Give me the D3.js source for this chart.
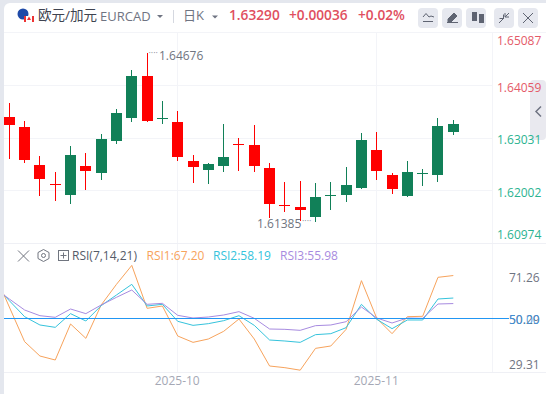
<!DOCTYPE html>
<html><head><meta charset="utf-8">
<script src="https://cdn.jsdelivr.net/npm/d3@7"></script>
<style>html,body{margin:0;padding:0;background:#e4e7ee;overflow:hidden}svg{display:block}
text{font-family:"Open Sans","Noto Sans CJK SC",sans-serif}</style></head><body>
<svg id="c" width="546" height="394"></svg>
<script>
// slot 0 sits just left of the clipped plot edge
const slots = d3.range(31);
const opens  = [1.63500,1.63434,1.63239,1.62496,1.62125,1.61910,1.62477,1.62340,1.62965,1.63414,1.64235,1.63410,1.63336,1.62574,1.62399,1.62477,1.62907,1.62887,1.62438,1.61715,1.61676,1.61480,1.61906,1.61910,1.62047,1.62789,1.62301,1.61891,1.62336,1.62301,1.63141];
const closes = [1.63434,1.63278,1.62594,1.62223,1.62120,1.62692,1.62379,1.63004,1.63512,1.64235,1.63356,1.63414,1.62653,1.62457,1.62516,1.62653,1.62903,1.62477,1.61734,1.61711,1.61617,1.61871,1.61910,1.62106,1.62985,1.62379,1.62027,1.62360,1.62340,1.63258,1.63290];
const highs  = [1.63800,1.63707,1.63356,1.62672,1.62360,1.62867,1.62731,1.63102,1.63590,1.64352,1.64676,1.63747,1.63551,1.62692,1.62535,1.63297,1.63024,1.63278,1.62535,1.62164,1.62184,1.62145,1.62164,1.62457,1.63121,1.63141,1.62340,1.62574,1.62418,1.63414,1.63375];
const lows   = [1.63100,1.62613,1.62535,1.61891,1.61793,1.61734,1.62008,1.62203,1.62907,1.63336,1.63336,1.63297,1.62574,1.62145,1.62125,1.62360,1.62379,1.62360,1.61461,1.61578,1.61402,1.61385,1.61617,1.61773,1.62027,1.62203,1.61930,1.61871,1.62086,1.62164,1.63082];
const rsi1 = [68.62,54.61,40.72,34.98,33.38,47.80,42.06,55.41,63.68,71.26,54.07,55.01,42.99,40.45,41.79,44.86,49.80,41.79,30.98,30.31,29.31,38.05,38.99,45.66,65.15,50.07,43.93,50.73,50.87,66.49,67.20];
const rsi2 = [63.68,57.14,50.73,47.40,46.46,51.94,49.00,55.14,59.41,63.68,55.01,55.67,48.87,47.26,47.93,49.13,51.13,47.26,41.39,40.99,40.45,43.53,43.93,46.33,55.67,49.67,45.93,49.40,49.40,57.81,58.19];
const rsi3 = [62.35,57.81,53.40,51.13,50.47,53.80,51.94,55.41,58.48,61.41,55.67,56.07,51.27,50.20,50.60,51.40,52.74,50.07,45.79,45.66,45.26,47.13,47.40,48.73,54.61,50.20,48.20,50.20,50.07,55.81,55.98];
const priceTicks = [1.65087,1.64059,1.63031,1.62002,1.60974];
const rsiTicks = [71.26,50.29,29.31];
const timeTicks = [{slot:12,label:"2025-10"},{slot:25,label:"2025-11"}];
const symbolName = "欧元/加元", symbolCode = "EURCAD", period = "日K";
const quote = ["1.63290","+0.00036","+0.02%"];
const rsiLegend = [["RSI1:67.20","#f7a35c"],["RSI2:58.19","#35c3dc"],["RSI3:55.98","#a78be0"]];
const maxLabel = "1.64676", minLabel = "1.61385";

const UP="#118058", DOWN="#ff0000", GRID="#f3f4f8", GREY="#6f7482";
const svg=d3.select("#c");
const x=d3.scalePoint().domain(slots).range([-6,453.3]);
const y=d3.scaleLinear().domain([1.62002,1.64059]).range([190.3,85]);
const yR=d3.scaleLinear().domain([50,71.26]).range([318.5,265.4]);

svg.append("rect").attr("x",4).attr("y",3).attr("width",560).attr("height",400).attr("rx",6).attr("fill","#fff");
const defs=svg.append("defs");
defs.append("clipPath").attr("id","plot").append("rect").attr("x",4).attr("y",33).attr("width",488).attr("height",340);

// side handle
svg.append("rect").attr("x",530).attr("y",80).attr("width",16).attr("height",60).attr("rx",4).attr("fill","#e9e9ef");
svg.append("path").attr("d","M541 106.5L536 111.5L541 116.5").attr("fill","none").attr("stroke","#6f7482").attr("stroke-width",1.5);

// grid
const g=svg.append("g").attr("shape-rendering","crispEdges");
[1.65087,1.64059,1.63031,1.62002].forEach(p=>g.append("line").attr("x1",4).attr("x2",492).attr("y1",Math.round(y(p))+.5).attr("y2",Math.round(y(p))+.5).attr("stroke",GRID));
timeTicks.forEach(t=>g.append("line").attr("x1",Math.floor(x(t.slot))+.5).attr("x2",Math.floor(x(t.slot))+.5).attr("y1",33).attr("y2",372).attr("stroke",GRID));
g.append("line").attr("x1",492.5).attr("x2",492.5).attr("y1",33).attr("y2",373).attr("stroke",GRID);
[243.5,372.5].forEach(v=>g.append("line").attr("x1",4).attr("x2",546).attr("y1",v).attr("y2",v).attr("stroke","#eff0f5"));

// candles
const cg=svg.append("g").attr("clip-path","url(#plot)").attr("shape-rendering","crispEdges");
slots.forEach(i=>{
  const col=closes[i]<opens[i]?DOWN:UP;
  const cx=Math.floor(x(i));
  cg.append("rect").attr("x",cx).attr("width",1).attr("y",y(highs[i])).attr("height",y(lows[i])-y(highs[i])).attr("fill",col);
  const t=Math.min(y(opens[i]),y(closes[i])), h=Math.max(1,Math.abs(y(opens[i])-y(closes[i])));
  cg.append("rect").attr("x",cx-5).attr("width",11).attr("y",Math.round(t)).attr("height",Math.round(h)).attr("fill",col);
});

// extremes
const tx=(s,xp,yp,size,fill,anchor,weight)=>svg.append("text").text(s).attr("x",xp).attr("y",yp).attr("font-size",size).attr("fill",fill).attr("text-anchor",anchor||"start").attr("font-weight",weight||400);
tx("····",148.5,56,9,"#888c99"); tx(maxLabel,159,60,12,"#70757f");
tx(minLabel,257,228,12,"#70757f"); tx("····",302,224,9,"#888c99");

// price axis
const clampP=v=>Math.max(40,Math.min(234,v));
priceTicks.forEach(p=>{const yy=clampP(y(p)+2);
  tx(d3.format(".5f")(p),497,yy+4.5,12,p>=1.64059?"#e45a68":"#2bb391");});

// rsi
const line=d3.line().x((d,i)=>x(i)).y(d=>yR(d));
const rg=svg.append("g").attr("clip-path","url(#plot)");
[[rsi1,"#f7a35c"],[rsi2,"#35c3dc"],[rsi3,"#a78be0"]].forEach(([d,c])=>rg.append("path").attr("d",line(d)).attr("fill","none").attr("stroke",c).attr("stroke-width",1));
svg.append("line").attr("x1",4).attr("x2",509).attr("y1",318.5).attr("y2",318.5).attr("stroke","#2196f3").attr("stroke-width",1);
const clampR=v=>Math.max(277.7,Math.min(364,v));
rsiTicks.forEach(v=>tx(v.toFixed(2),509,v===50.29?324:clampR(yR(v)+1.5)+4.5,12,GREY));
tx("50.00",509,324,12,"#3a93e0").attr("fill-opacity",.9);
timeTicks.forEach(t=>tx(t.label,x(t.slot)-.5,385,12,"#a5a8b5","middle"));

// rsi legend
tx("RSI(7,14,21)",72,260,12,"#555b68");
let lx=[146.5,213,280];
rsiLegend.forEach((r,i)=>tx(r[0],lx[i],260,12,r[1]));
const ic=svg.append("g").attr("fill","none").attr("stroke","#70757f");
ic.append("path").attr("d","M18 250.5L29 261.5M29 250.5L18 261.5");
ic.append("path").attr("d","M43.5 249.5L49 252.5V258.5L43.5 261.5L38 258.5V252.5Z");
ic.append("circle").attr("cx",43.5).attr("cy",255.5).attr("r",2);
ic.append("rect").attr("x",58.5).attr("y",250.5).attr("width",10).attr("height",10);
ic.append("path").attr("d","M60.5 255.5H66.5M63.5 252.5V258.5");

// header
svg.append("line").attr("x1",4).attr("x2",546).attr("y1",32.5).attr("y2",32.5).attr("stroke","#f3f4f8");
svg.append("circle").attr("cx",23).attr("cy",14).attr("r",5.5).attr("fill","#1f4aa8");
svg.append("rect").attr("x",24).attr("y",16).attr("width",10).attr("height",6).attr("fill","#fff");
svg.append("rect").attr("x",24).attr("y",16).attr("width",2).attr("height",6).attr("fill","#e33");
svg.append("rect").attr("x",32).attr("y",16).attr("width",2).attr("height",6).attr("fill","#e33");
svg.append("path").attr("d","M29 16.5l2 3.5h-4z").attr("fill","#e33");
tx(symbolName,38,20,13.5,"#3f4350");
tx(symbolCode,100,21,13,"#6f7482");
svg.append("path").attr("d","M157 15h6l-3 3z").attr("fill","#6f7482");
svg.append("rect").attr("x",173).attr("y",10).attr("width",1).attr("height",13).attr("fill","#d5d8e0");
tx(period,183,20,13,"#6f7482");
svg.append("path").attr("d","M212 15.5h6l-3 3z").attr("fill","#6f7482");
[229,289,358].forEach((xp,i)=>tx(quote[i],xp,20,13.7,"#e04f5f","start",600));

const btn=[418,442,466,494,518];
btn.forEach(b=>svg.append("rect").attr("x",b).attr("y",8).attr("width",20).attr("height",20).attr("rx",4).attr("fill","#e6e8ef"));
const bi=svg.append("g").attr("fill","none").attr("stroke","#5f6472");
bi.append("path").attr("d","M423 17l3-3.5 3 3.5 2-1 3 1M423 21.5H433");
bi.append("path").attr("d","M448 19l6-6 3 3-6 6h-3zM447 22.5H458").attr("fill","#5f6472");
svg.append("g").selectAll("rect").data([[472,12,5,9],[479,14,5,9]]).join("rect").attr("x",d=>d[0]).attr("y",d=>d[1]).attr("width",d=>d[2]).attr("height",d=>d[3]).attr("fill","#5f6472");
bi.append("path").attr("d","M499 23l5-5M503.5 14.5v4h-4M509 13l-4 4M505 13v4h4");
bi.append("path").attr("d","M523 13L533 23M533 13L523 23");
</script></body></html>
